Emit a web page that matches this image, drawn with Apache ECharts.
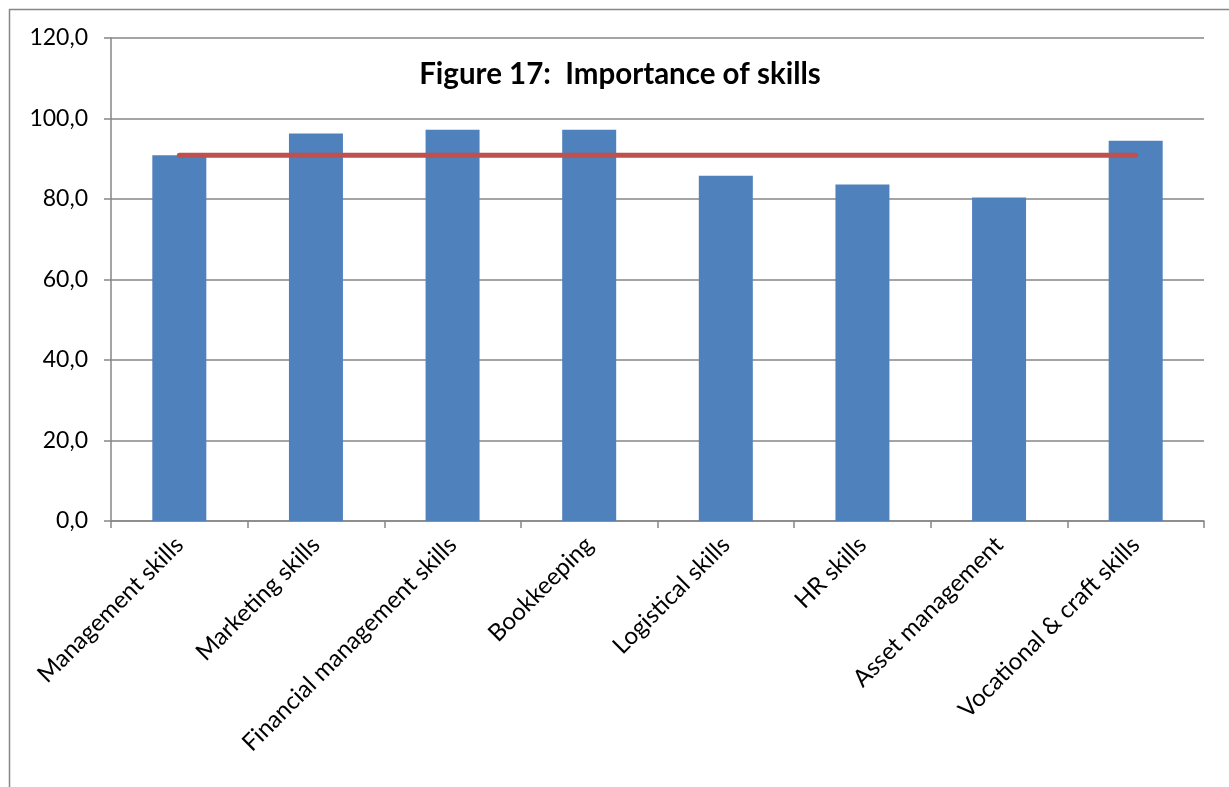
<!DOCTYPE html>
<html>
<head>
<meta charset="utf-8">
<script src="https://cdn.jsdelivr.net/npm/echarts@6/dist/echarts.min.js"></script>
<style>
html,body{margin:0;padding:0;background:#fff;}
#chart{width:1229px;height:787px;}
</style>
</head>
<body>
<div id="chart"></div>
<script>
const categories = ["Management skills","Marketing skills","Financial management skills","Bookkeeping","Logistical skills","HR skills","Asset management","Vocational & craft skills"];
const importance = [90.9, 96.3, 97.2, 97.2, 85.8, 83.6, 80.4, 94.5];
const averageLine = [90.9, 90.9, 90.9, 90.9, 90.9, 90.9, 90.9, 90.9];
const titleText = "Figure 17:  Importance of skills";

const chart = echarts.init(document.getElementById('chart'), null, {renderer:'canvas'});
const FONT = 'Lato, "Open Sans", sans-serif';
chart.setOption({
  animation:false,
  backgroundColor:'#fff',
  graphic:[{
    type:'rect', shape:{x:9.5,y:9.5,width:1240,height:800},
    style:{fill:'none',stroke:'#868686',lineWidth:1.5}, z:-1
  },{
    type:'text', x:620, y:74,
    style:{text:titleText, font:'bold 29.5px '+FONT, fill:'#000', textAlign:'center', textVerticalAlign:'middle'}, z:10
  }],
  grid:{left:111,right:25,top:38,bottom:266},
  xAxis:{
    type:'category', data:categories,
    axisLine:{lineStyle:{color:'#868686',width:1.5}},
    axisTick:{show:true,length:7,alignWithLabel:false,lineStyle:{color:'#868686',width:1.5}},
    axisLabel:{rotate:45,interval:0,color:'#000',fontFamily:FONT,fontSize:24,margin:20},
    splitLine:{show:false}
  },
  yAxis:{
    type:'value', min:0, max:120, interval:20,
    axisLine:{show:true,lineStyle:{color:'#868686',width:1.5}},
    axisTick:{show:true,length:7,lineStyle:{color:'#868686',width:1.5}},
    axisLabel:{color:'#000',fontFamily:FONT,fontSize:23,margin:23,
      formatter:v=>v.toFixed(1).replace('.',',')},
    splitLine:{show:true,lineStyle:{color:'#868686',width:1.5}}
  },
  series:[{
    type:'bar', data:importance, barWidth:54,
    itemStyle:{color:'#4F81BD'}, z:2
  },{
    type:'line', data:averageLine, symbol:'none',
    lineStyle:{color:'#C0504D',width:5,cap:'round'}, z:3
  }]
});
</script>
</body>
</html>
